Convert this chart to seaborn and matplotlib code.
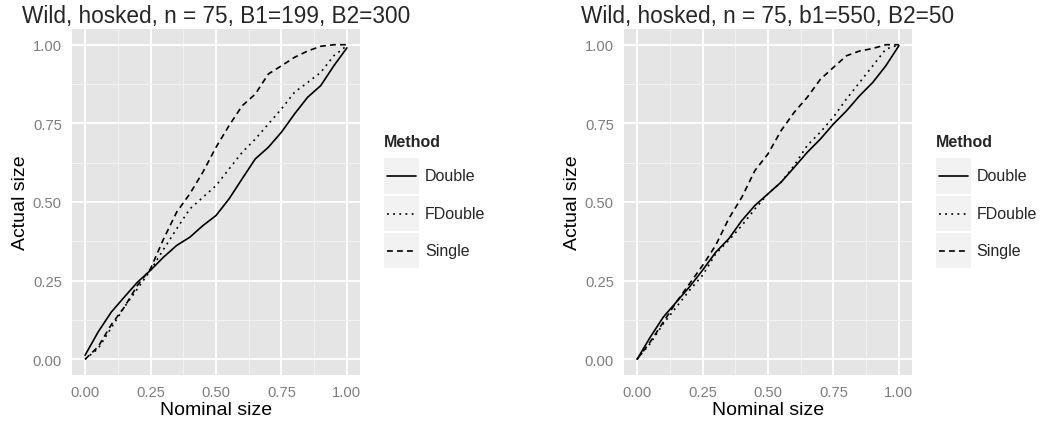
import numpy as np
import pandas as pd
import matplotlib
matplotlib.use("Agg")
import matplotlib.pyplot as plt
from matplotlib.patches import Rectangle
from matplotlib.lines import Line2D
import seaborn as sns

# ---- data ----
nominal = [0.0, 0.05, 0.10, 0.15, 0.20, 0.25, 0.30, 0.35, 0.40, 0.45, 0.50,
           0.55, 0.60, 0.65, 0.70, 0.75, 0.80, 0.85, 0.90, 0.95, 1.0]

left_double = [0.013, 0.087, 0.150, 0.198, 0.245, 0.283, 0.325, 0.362, 0.388, 0.425, 0.457,
               0.510, 0.574, 0.637, 0.674, 0.722, 0.780, 0.833, 0.870, 0.933, 0.990]
left_fdouble = [0.0, 0.034, 0.100, 0.166, 0.224, 0.283, 0.350, 0.415, 0.478, 0.515, 0.552,
                0.605, 0.658, 0.700, 0.748, 0.796, 0.849, 0.880, 0.912, 0.965, 0.997]
left_single = [0.0, 0.040, 0.110, 0.166, 0.235, 0.288, 0.383, 0.468, 0.526, 0.595, 0.674,
               0.743, 0.806, 0.843, 0.907, 0.933, 0.960, 0.980, 0.995, 1.0, 1.0]

right_double = [0.0, 0.070, 0.134, 0.182, 0.230, 0.283, 0.340, 0.383, 0.441, 0.489, 0.526,
                0.563, 0.610, 0.658, 0.700, 0.748, 0.790, 0.838, 0.880, 0.933, 0.997]
right_fdouble = [0.0, 0.050, 0.113, 0.166, 0.219, 0.267, 0.335, 0.378, 0.425, 0.478, 0.526,
                 0.563, 0.616, 0.680, 0.722, 0.770, 0.828, 0.880, 0.933, 0.986, 1.0]
right_single = [0.0, 0.055, 0.118, 0.182, 0.240, 0.298, 0.362, 0.447, 0.515, 0.600, 0.653,
                0.727, 0.785, 0.833, 0.890, 0.928, 0.965, 0.980, 0.988, 1.0, 1.0]

methods = ["Double", "FDouble", "Single"]
titles = ["Wild, hosked, n = 75, B1=199, B2=300", "Wild, hosked, n = 75, b1=550, B2=50"]
tick_vals = [0.0, 0.25, 0.5, 0.75, 1.0]
tick_labels = ["0.00", "0.25", "0.50", "0.75", "1.00"]

def make_df(d, f, s):
    rows = []
    for m, vals in zip(methods, [d, f, s]):
        for x, y in zip(nominal, vals):
            rows.append({"Nominal size": x, "Actual size": y, "Method": m})
    return pd.DataFrame(rows)

dfs = [make_df(left_double, left_fdouble, left_single),
       make_df(right_double, right_fdouble, right_single)]

# ---- styling ----
sns.set_style("white")
plt.rcParams["font.family"] = ["Liberation Sans", "DejaVu Sans"]

W, H = 1042, 427
fig = plt.figure(figsize=(W / 100, H / 100), dpi=100)

LW = 1.2
dash_map = {"Double": "", "FDouble": (1.1, 2.6), "Single": (3.5, 2.5)}
grey50 = "#7F7F7F"

panel_left = [72, 624]
legend_left = [384, 935.7]

for i in range(2):
    x0 = panel_left[i]
    ax = fig.add_axes([x0 / W, (H - 376) / H, 288 / W, 346 / H])
    ax.set_facecolor("#E5E5E5")
    for sp in ax.spines.values():
        sp.set_visible(False)
    ax.set_xlim(-0.05, 1.05)
    ax.set_ylim(-0.05, 1.05)
    ax.set_xticks(tick_vals)
    ax.set_xticklabels(tick_labels)
    ax.set_yticks(tick_vals)
    ax.set_yticklabels(tick_labels)
    ax.set_xticks([0.125, 0.375, 0.625, 0.875], minor=True)
    ax.set_yticks([0.125, 0.375, 0.625, 0.875], minor=True)
    ax.grid(True, which="major", color="white", linewidth=1.3)
    ax.grid(True, which="minor", color="#F2F2F2", linewidth=0.7)
    ax.set_axisbelow(True)
    ax.tick_params(which="major", length=4.3, width=0.8, color=grey50,
                   labelcolor=grey50, labelsize=10.6, pad=3)
    ax.tick_params(which="minor", length=0)

    sns.lineplot(data=dfs[i], x="Nominal size", y="Actual size", style="Method",
                 style_order=methods, dashes=dash_map, color="black",
                 linewidth=LW, ax=ax, legend=False, sort=True)

    ax.set_xlabel("Nominal size", fontsize=14, color="black")
    ax.set_ylabel("Actual size", fontsize=14, color="black")
    ax.xaxis.set_label_coords(0.5, -0.076)
    ax.yaxis.set_label_coords(-0.15, 0.5)
    ax.set_title(titles[i], fontsize=16.3, pad=5)

    # legend (ggplot style)
    lx = legend_left[i]
    fig.text(lx / W, 1 - 143 / H, "Method", fontsize=11.5, fontweight="bold",
             ha="left", va="center")
    boxes = [(159, 195), (197, 232), (234, 269)]
    for (t, b), m in zip(boxes, methods):
        fig.patches.append(Rectangle((lx / W, 1 - b / H), 35 / W, (b - t) / H,
                                     transform=fig.transFigure, facecolor="#F2F2F2",
                                     edgecolor="none", zorder=1))
        yc = 1 - ((t + b) / 2) / H
        ln = Line2D([(lx + 3) / W, (lx + 32) / W], [yc, yc], transform=fig.transFigure,
                    color="black", linewidth=LW, zorder=2)
        if dash_map[m]:
            ln.set_dashes(dash_map[m])
        fig.lines.append(ln)
        fig.text((lx + 41) / W, yc, m, fontsize=11.5, ha="left", va="center")

fig.savefig("out.png", dpi=100)
